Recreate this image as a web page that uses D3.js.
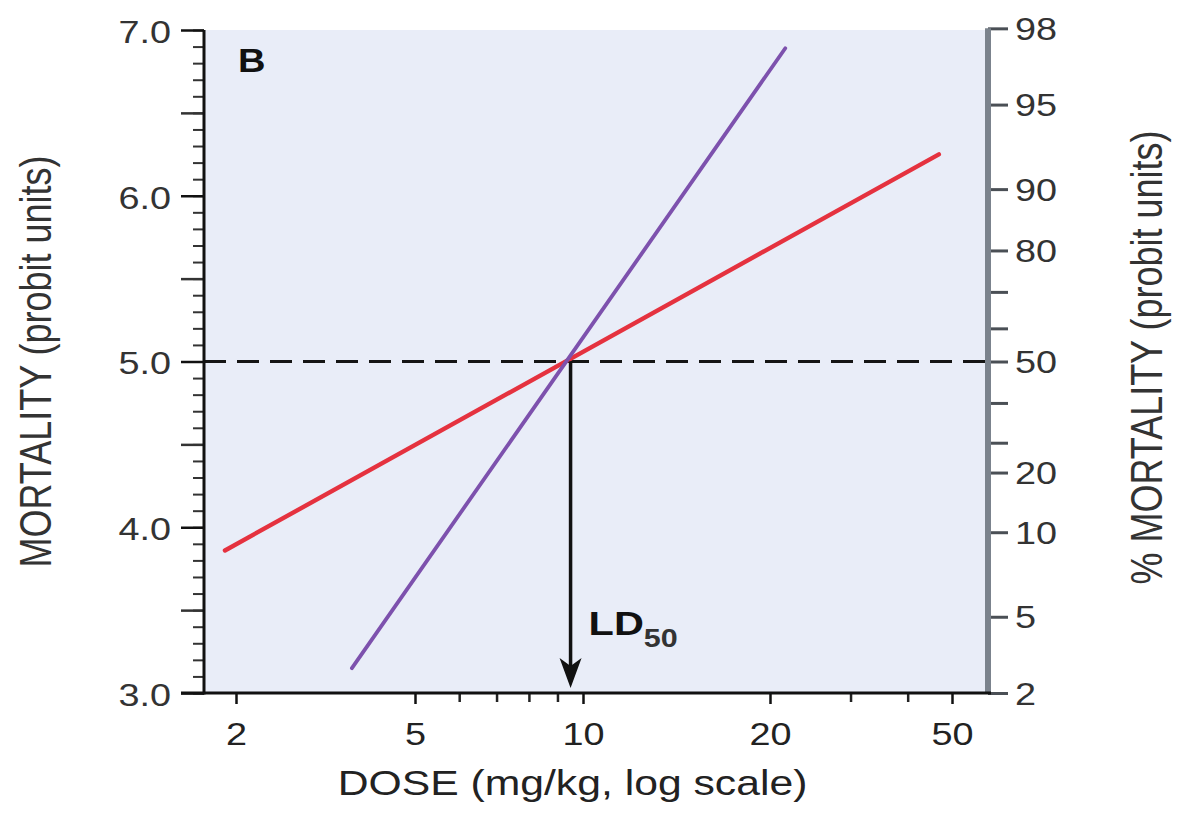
<!DOCTYPE html>
<html>
<head>
<meta charset="utf-8">
<script src="https://cdn.jsdelivr.net/npm/d3@7/dist/d3.min.js"></script>
<style>
  html, body { margin: 0; padding: 0; background: #ffffff; }
  svg { display: block; }
  text { font-family: "Liberation Sans", Arial, Helvetica, sans-serif; }
</style>
</head>
<body>
<svg id="chart" width="1177" height="813"></svg>
<script>
// ---------------- DATA ----------------
const doseTicks = [2, 5, 10, 20, 50];
const doseMinorTicks = [6, 7, 8, 9, 30, 40];
const probitTicks = [3, 4, 5, 6, 7];
const probitHalfTicks = [3.5, 4.5, 5.5, 6.5];
const pctTicks = [2, 5, 10, 20, 30, 40, 50, 60, 70, 80, 90, 95, 98];
const pctLabeled = [2, 5, 10, 20, 50, 80, 90, 95, 98];
// where the reference places each % tick, read in probit units of the left axis
const pctProbitPos = [3.00, 3.46, 3.97, 4.33, 4.51, 4.75, 5.00, 5.20, 5.42, 5.67, 6.04, 6.55, 7.01];

const redDose = [1.89, 46.8];
const redProbit = [3.86, 6.25];
const purpleDose = [3.62, 21.6];
const purpleProbit = [3.15, 6.89];

const ld50Dose = 9.5;
const ld50Probit = 5.0;

// ---------------- LAYOUT ----------------
const W = 1177, H = 813;
const L = 204, R = 988, T = 30, B = 693;
const SX = 1.22; // horizontal stretch of the reference's lettering
const xTickPx = [236, 415, 583, 770, 952];

const svg = d3.select("#chart");

const y = d3.scaleLinear().domain([3, 7]).range([B, T]);
const x = d3.scaleLog().domain(doseTicks).range(xTickPx);
const pctY = d3.scaleLinear().domain(pctTicks).range(pctProbitPos.map(y));

svg.append("rect").attr("width", W).attr("height", H).attr("fill", "#ffffff");

// plot background
svg.append("rect")
  .attr("x", L).attr("y", T)
  .attr("width", R - L).attr("height", B - T)
  .attr("fill", "#e9edf8");

// dashed 50% line
svg.append("line")
  .attr("x1", L).attr("x2", R)
  .attr("y1", y(ld50Probit)).attr("y2", y(ld50Probit))
  .attr("stroke", "#151515").attr("stroke-width", 3)
  .attr("stroke-dasharray", "22,11");

const line = d3.line().x(d => x(d[0])).y(d => y(d[1]));

svg.append("path")
  .datum(d3.zip(redDose, redProbit))
  .attr("d", line)
  .attr("fill", "none")
  .attr("stroke", "#e5323f")
  .attr("stroke-width", 4.4)
  .attr("stroke-linecap", "round");

svg.append("path")
  .datum(d3.zip(purpleDose, purpleProbit))
  .attr("d", line)
  .attr("fill", "none")
  .attr("stroke", "#7d51ad")
  .attr("stroke-width", 3.8)
  .attr("stroke-linecap", "round");

// LD50 arrow
const ax = x(ld50Dose);
const tipY = B - 5;
svg.append("line")
  .attr("x1", ax).attr("x2", ax)
  .attr("y1", y(ld50Probit)).attr("y2", tipY - 20)
  .attr("stroke", "#111").attr("stroke-width", 3.5);
svg.append("path")
  .attr("d", `M${ax},${tipY} L${ax - 11},${tipY - 30} L${ax},${tipY - 22} L${ax + 11},${tipY - 30} Z`)
  .attr("fill", "#111");

// LD50 label
const ldText = svg.append("text")
  .attr("transform", `translate(${ax + 18},${y(3.35)}) scale(${SX},1)`)
  .attr("font-size", 34).attr("font-weight", "bold").attr("fill", "#111");
ldText.append("tspan").text("LD");
ldText.append("tspan").attr("dy", 12).attr("font-size", 25).attr("fill", "#333").text("50");

// panel letter
svg.append("text")
  .attr("transform", `translate(${L + 34},${T + 42}) scale(1.12,1)`)
  .attr("font-size", 34).attr("font-weight", "bold").attr("fill", "#111")
  .text("B");

// ---------------- AXES ----------------
function styleTicks(g, color, width) {
  g.select(".domain").remove();
  g.selectAll(".tick line").attr("stroke", color).attr("stroke-width", width);
}

// left axis
const gl = svg.append("g").attr("transform", `translate(${L},0)`);
gl.append("g")
  .call(d3.axisLeft(y).tickValues(d3.range(30, 71).map(d => d / 10)).tickSize(11).tickFormat(""))
  .call(g => styleTicks(g, "#333", 2));
gl.append("g")
  .call(d3.axisLeft(y).tickValues(probitHalfTicks).tickSize(23).tickFormat(""))
  .call(g => styleTicks(g, "#333", 2.5));
gl.append("g")
  .call(d3.axisLeft(y).tickValues(probitTicks).tickSize(23).tickFormat(d3.format(".1f")))
  .call(g => styleTicks(g, "#111", 2.5))
  .call(g => g.selectAll(".tick text")
    .attr("x", -33 / SX).attr("dy", "0.4em")
    .attr("transform", `scale(${SX},1)`)
    .attr("font-size", 31).attr("fill", "#333"));

// bottom axis
const gb = svg.append("g").attr("transform", `translate(0,${B})`);
gb.append("g")
  .call(d3.axisBottom(x).tickValues(doseMinorTicks).tickSize(9).tickFormat(""))
  .call(g => styleTicks(g, "#222", 2.5));
gb.append("g")
  .call(d3.axisBottom(x).tickValues(doseTicks).tickSize(11).tickPadding(19).tickFormat(d3.format("d")))
  .call(g => styleTicks(g, "#111", 2.5))
  .call(g => g.selectAll(".tick text")
    .attr("transform", `scale(${SX},1)`)
    .attr("font-size", 31).attr("fill", "#222"));

// right axis
const gr = svg.append("g").attr("transform", `translate(${R},0)`);
gr.append("g")
  .call(d3.axisRight(pctY).tickValues(pctTicks).tickSize(20)
    .tickFormat(d => pctLabeled.includes(d) ? String(d) : ""))
  .call(g => styleTicks(g, "#4a4f55", 3))
  .call(g => g.selectAll(".tick text")
    .attr("x", 27 / SX).attr("dy", "0.36em")
    .attr("transform", `scale(${SX},1)`)
    .attr("font-size", 31).attr("fill", "#333"));

// axis lines
svg.append("line")
  .attr("x1", R).attr("x2", R).attr("y1", pctY(98)).attr("y2", B)
  .attr("stroke", "#7b838d").attr("stroke-width", 6);
svg.append("line")
  .attr("x1", L).attr("x2", L).attr("y1", T).attr("y2", B + 1.5)
  .attr("stroke", "#111").attr("stroke-width", 3);
svg.append("line")
  .attr("x1", L - 23).attr("x2", R + 3).attr("y1", B).attr("y2", B)
  .attr("stroke", "#111").attr("stroke-width", 3);

// axis titles
svg.append("text")
  .attr("transform", `translate(51,${(T + B) / 2}) scale(${SX},1) rotate(-90)`)
  .attr("text-anchor", "middle").attr("font-size", 36).attr("fill", "#333")
  .text("MORTALITY (probit units)");

svg.append("text")
  .attr("transform", `translate(1162,${(T + B) / 2 - 4}) scale(${SX},1) rotate(-90)`)
  .attr("text-anchor", "middle").attr("font-size", 36).attr("fill", "#333")
  .text("% MORTALITY (probit units)");

svg.append("text")
  .attr("transform", `translate(${(337 + 808) / 2},795) scale(${SX},1)`)
  .attr("text-anchor", "middle").attr("font-size", 35).attr("fill", "#222")
  .text("DOSE (mg/kg, log scale)");
</script>
</body>
</html>
